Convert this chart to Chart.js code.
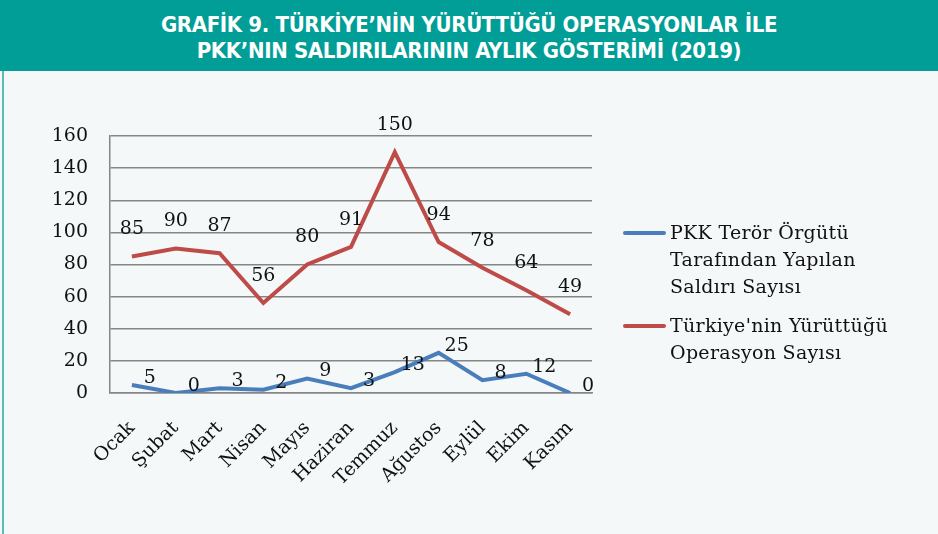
<!DOCTYPE html>
<html lang="tr">
<head>
<meta charset="utf-8">
<script src="https://cdn.jsdelivr.net/npm/chart.js@4"></script>
<style>
  html, body { margin: 0; padding: 0; }
  body { width: 938px; height: 534px; background: #f4f8f9; position: relative; overflow: hidden; }
  #head {
    position: absolute; left: 0; top: 0; width: 938px; height: 71px;
    background: #009e96; color: #fff; text-align: center;
    font-family: "DejaVu Sans Condensed", "Liberation Sans Narrow", "DejaVu Sans", sans-serif;
    font-stretch: condensed; font-weight: bold; font-size: 22px; line-height: 26px;
    padding-top: 12px; box-sizing: border-box; letter-spacing: -0.35px;
  }
  #edge { position: absolute; left: 2px; top: 71px; width: 2px; height: 463px; background: #5bbcb6; }
  #box { position: absolute; left: 0; top: 70px; width: 938px; height: 464px; }
  #legend {
    position: absolute; left: 623px; top: 219px;
    font-family: "DejaVu Serif", serif; font-size: 19px; line-height: 27px; color: #111;
    letter-spacing: 0.3px;
  }
  .item { position: relative; padding-left: 47px; margin-bottom: 12px; }
  .item i { position: absolute; left: 0; top: 12px; width: 43px; height: 4px; border-radius: 2px; }
</style>
</head>
<body>
<div id="head">GRAFİK 9. TÜRKİYE’NİN YÜRÜTTÜĞÜ OPERASYONLAR İLE<br>PKK’NIN SALDIRILARININ AYLIK GÖSTERİMİ (2019)</div>
<div id="edge"></div>
<div id="box"><canvas id="chart" width="938" height="464"></canvas></div>
<div id="legend"></div>
<script>
// aylar ve seriler
const months = ['Ocak', 'Şubat', 'Mart', 'Nisan', 'Mayıs', 'Haziran', 'Temmuz', 'Ağustos', 'Eylül', 'Ekim', 'Kasım'];
const pkkAttacks = [5, 0, 3, 2, 9, 3, 13, 25, 8, 12, 0];
const operations = [85, 90, 87, 56, 80, 91, 150, 94, 78, 64, 49];
const seriesNames = [
  ['PKK Terör Örgütü', 'Tarafından Yapılan', 'Saldırı Sayısı'],
  ["Türkiye'nin Yürüttüğü", 'Operasyon Sayısı']
];
const seriesColors = ['#4a7ebb', '#be4b48'];
const yTicks = [0, 20, 40, 60, 80, 100, 120, 140, 160];

const serif = '"DejaVu Serif", serif';

// nokta değerlerini yaz
const valueLabels = {
  id: 'valueLabels',
  afterDatasetsDraw(chart) {
    const ctx = chart.ctx;
    ctx.save();
    ctx.font = '19px ' + serif;
    ctx.fillStyle = '#111';
    ctx.textAlign = 'center';
    ctx.textBaseline = 'middle';
    chart.data.datasets.forEach((ds, i) => {
      const meta = chart.getDatasetMeta(i);
      const off = ds.labelOffset;
      meta.data.forEach((pt, j) => {
        ctx.fillText(String(ds.data[j]), pt.x + off[0], pt.y + off[1]);
      });
    });
    ctx.restore();
  }
};

new Chart(document.getElementById('chart').getContext('2d'), {
  type: 'line',
  data: {
    labels: months,
    datasets: [
      { label: seriesNames[0].join(' '), data: pkkAttacks, borderColor: seriesColors[0], borderWidth: 4,
        pointRadius: 0, tension: 0, labelOffset: [18, -7] },
      { label: seriesNames[1].join(' '), data: operations, borderColor: seriesColors[1], borderWidth: 4,
        pointRadius: 0, tension: 0, labelOffset: [0, -27] }
    ]
  },
  options: {
    responsive: false,
    animation: false,
    layout: { padding: { left: 0, right: 346, top: 66, bottom: 0 } },
    plugins: { legend: { display: false }, tooltip: { enabled: false } },
    scales: {
      x: {
        offset: true,
        grid: { display: false },
        border: { display: true, color: '#868686', width: 1.5 },
        ticks: { color: '#111', font: { family: serif, size: 19 }, minRotation: 45, maxRotation: 45, padding: 16 },
        afterFit: s => { s.height = 141; }
      },
      y: {
        min: 0, max: 160,
        afterBuildTicks: s => { s.ticks = yTicks.map(v => ({ value: v })); },
        grid: { color: '#868686', lineWidth: 1.5, drawTicks: false },
        border: { display: true, color: '#868686', width: 1.5 },
        ticks: { color: '#111', font: { family: serif, size: 19 }, padding: 22 },
        afterFit: s => { s.width = 110; }
      }
    }
  },
  plugins: [valueLabels]
});

// sağdaki açıklama
document.getElementById('legend').innerHTML = seriesNames.map((lines, i) =>
  `<div class="item"><i style="background:${seriesColors[i]}"></i>${lines.join('<br>')}</div>`
).join('');
</script>
</body>
</html>
